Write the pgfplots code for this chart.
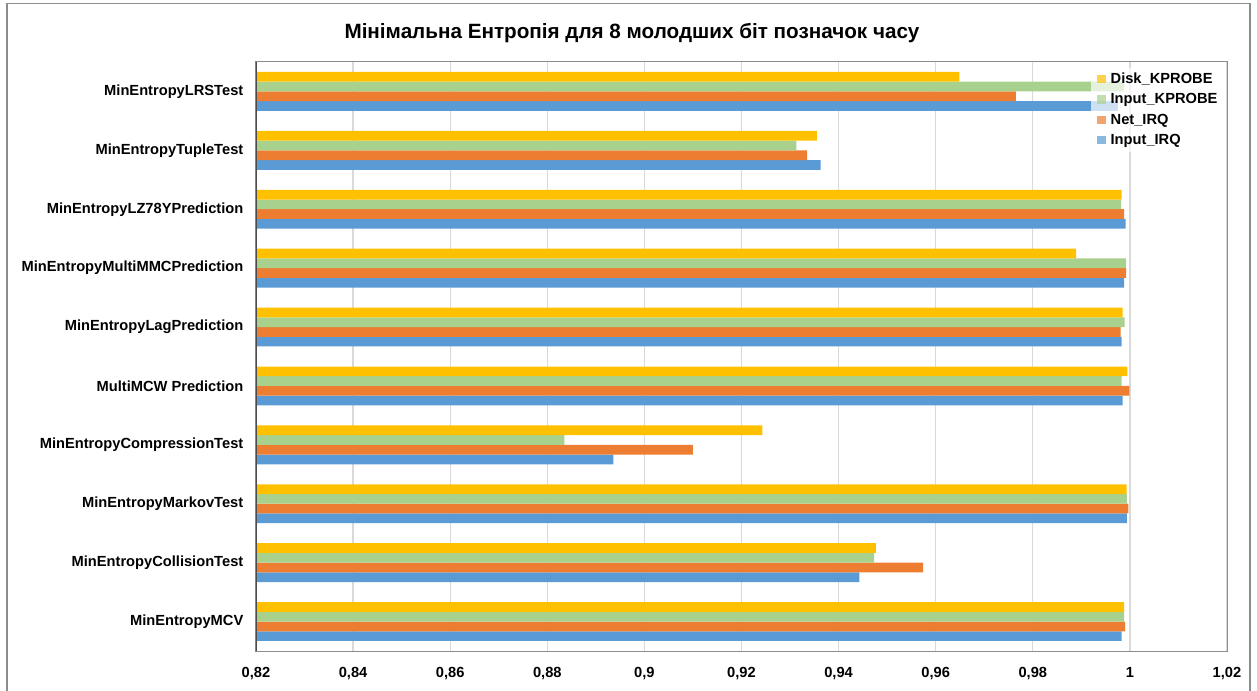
\documentclass[border=0pt]{standalone}
\usepackage{fontspec}
\setmainfont{Liberation Sans}
\usepackage{pgfplots}
\usepackage{pgfplotstable}
\pgfplotsset{compat=1.18}

\definecolor{cBlue}{HTML}{5B9BD5}
\definecolor{cOrange}{HTML}{ED7D31}
\definecolor{cGreen}{HTML}{A9D18E}
\definecolor{cYellow}{HTML}{FFC000}
\definecolor{cGrid}{HTML}{D9D9D9}
\definecolor{cFrame}{HTML}{8C8C8C}

% idx: 0 = MinEntropyMCV (bottom) ... 9 = MinEntropyLRSTest (top)
\pgfplotstableread{
idx IIRQ   NIRQ   IKP    DKP
0   0.9983 0.9990 0.9988 0.9988
1   0.9443 0.9574 0.9473 0.9477
2   0.9994 0.9997 0.9994 0.9993
3   0.8936 0.9100 0.8835 0.9243
4   0.9985 0.9999 0.9983 0.9995
5   0.9983 0.9981 0.9989 0.9985
6   0.9988 0.9992 0.9992 0.9889
7   0.9991 0.9988 0.9982 0.9983
8   0.9363 0.9335 0.9313 0.9355
9   0.9975 0.9765 0.9988 0.9649
}\entropytable

\begin{document}
\begin{tikzpicture}
\path[use as bounding box] (0pt,0pt) rectangle (942.75pt,-518.25pt);
\draw[cFrame, line width=1pt] (5.25pt,-530pt) -- (5.25pt,-2.5pt) -- (937.5pt,-2.5pt) -- (937.5pt,-530pt);
\node[font=\bfseries\fontsize{15.5}{18}\selectfont] at (474pt,-24.5pt)
  {Мінімальна Ентропія для 8 молодших біт позначок часу};
\begin{axis}[
  at={(192pt,-488.25pt)}, anchor=south west,
  scale only axis, width=728.25pt, height=441.75pt,
  xmin=0.82, xmax=1.02, ymin=-0.5, ymax=9.5,
  xbar=0pt, bar width=0.165,
  xtick={0.82,0.84,0.86,0.88,0.9,0.92,0.94,0.96,0.98,1,1.02},
  ytick={0,1,2,3,4,5,6,7,8,9},
  yticklabels={MinEntropyMCV, MinEntropyCollisionTest, MinEntropyMarkovTest,
    MinEntropyCompressionTest, MultiMCW Prediction, MinEntropyLagPrediction,
    MinEntropyMultiMMCPrediction, MinEntropyLZ78YPrediction,
    MinEntropyTupleTest, MinEntropyLRSTest},
  major tick length=0pt,
  xmajorgrids, grid style={draw=cGrid, line width=0.9pt},
  axis line style={draw=cFrame, line width=0.75pt},
  tick label style={font=\bfseries\fontsize{11}{13}\selectfont},
  xticklabel style={/pgf/number format/.cd, use comma, fixed, assume math mode=true},
  xticklabel shift=9pt,
  yticklabel shift=6pt,
  reverse legend,
  legend style={at={(1,1)}, anchor=north east, xshift=-1pt, yshift=-4pt,
    draw=none, fill=white, fill opacity=0.7, text opacity=1,
    font=\bfseries\fontsize{11}{13}\selectfont, row sep=2pt,
    inner xsep=5pt, inner ysep=2pt,
    nodes={inner xsep=1pt},
    /tikz/every odd column/.append style={column sep=2.5pt}},
  legend cell align=left,
  legend image code/.code={%
    \fill[#1] (0pt,-3.2pt) rectangle (6.4pt,3.2pt);},
]
\addplot[fill=cBlue, draw=none] table[x=IIRQ, y=idx] {\entropytable};
\addlegendentry{Input\_IRQ}
\addplot[fill=cOrange, draw=none] table[x=NIRQ, y=idx] {\entropytable};
\addlegendentry{Net\_IRQ}
\addplot[fill=cGreen, draw=none] table[x=IKP, y=idx] {\entropytable};
\addlegendentry{Input\_KPROBE}
\addplot[fill=cYellow, draw=none] table[x=DKP, y=idx] {\entropytable};
\addlegendentry{Disk\_KPROBE}
\draw[black!70, line width=0.9pt] (rel axis cs:0,0) -- (rel axis cs:0,1);
\end{axis}
\end{tikzpicture}
\end{document}
